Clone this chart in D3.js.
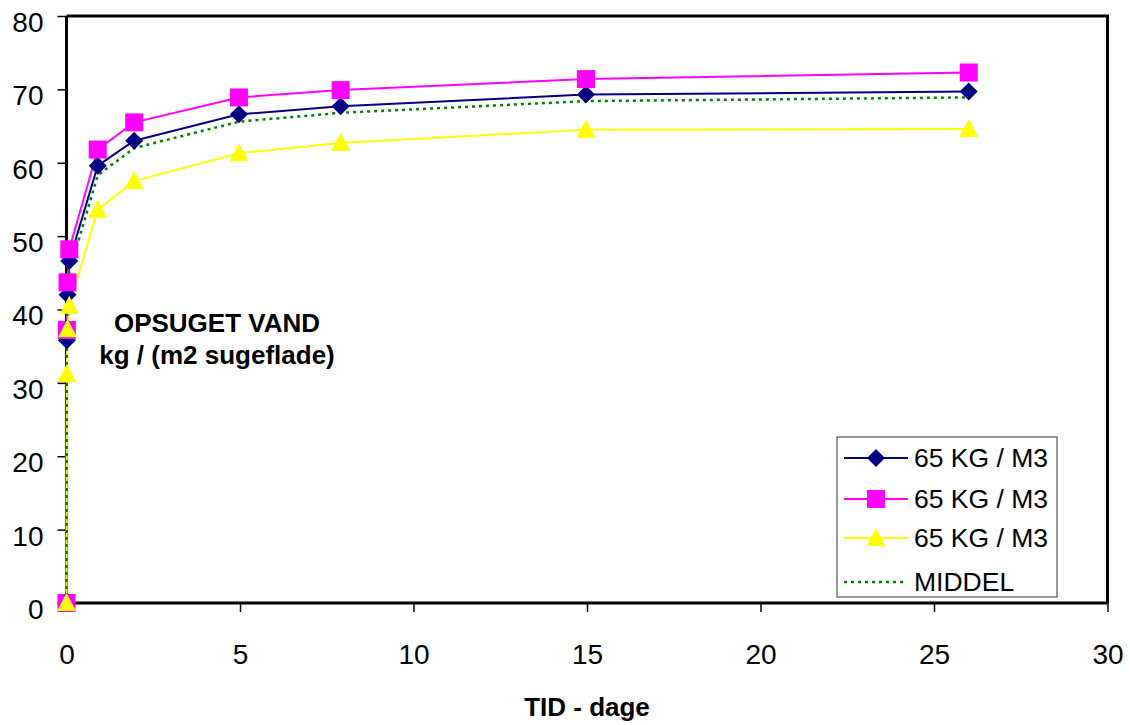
<!DOCTYPE html>
<html>
<head>
<meta charset="utf-8">
<script src="https://cdn.jsdelivr.net/npm/d3@7"></script>
<style>
  html, body { margin: 0; padding: 0; background: #fff; }
  svg { display: block; font-family: "Liberation Sans", Arial, sans-serif; }
</style>
</head>
<body>
<svg id="chart" width="1130" height="725"></svg>
<script>
// ---- data ----
const days = [0, 0.01, 0.03, 0.08, 0.9, 1.95, 4.97, 7.9, 14.97, 26.0];
const serieA = [0, 35.8, 42.0, 46.6, 59.6, 63.0, 66.6, 67.7, 69.3, 69.7];   // navy diamonds
const serieB = [0, 37.2, 43.7, 48.2, 61.8, 65.5, 68.9, 69.9, 71.4, 72.3];   // magenta squares
const serieC = [0, 31.2, 37.3, 40.5, 53.6, 57.5, 61.3, 62.7, 64.5, 64.6];   // yellow triangles
const middel = [0, 34.7, 41.0, 45.1, 58.3, 62.0, 65.6, 66.8, 68.4, 68.9];   // dotted mean
const seriesNames = ["65 KG / M3", "65 KG / M3", "65 KG / M3", "MIDDEL"];
const xTicks = [0, 5, 10, 15, 20, 25, 30];
const yTicks = [0, 10, 20, 30, 40, 50, 60, 70, 80];
const xTitle = "TID - dage";
const yNote = ["OPSUGET VAND", "kg / (m2 sugeflade)"];

// ---- layout ----
const svg = d3.select("#chart");
const L = 66.5, R = 1107.5, T = 16, B = 603;
const x = d3.scaleLinear().domain([0, 30]).range([L, R]);
const y = d3.scaleLinear().domain([0, 80]).range([B, T]);

// frame (top & right)
svg.append("path")
  .attr("d", `M${L},${T}H${R}V${B}`)
  .attr("fill", "none").attr("stroke", "#000").attr("stroke-width", 3);

// y axis
const yAxis = svg.append("g").attr("transform", `translate(${L},0)`)
  .call(d3.axisLeft(y).tickValues(yTicks).tickSize(9).tickPadding(14).tickFormat(d3.format("d")));
yAxis.select(".domain").attr("stroke-width", 3).attr("d", `M0,${T}V${B}`);
yAxis.selectAll(".tick line").attr("stroke-width", 1.5);
yAxis.selectAll(".tick text").attr("font-size", 28).attr("fill", "#000")
  .attr("font-family", "Liberation Sans, Arial, sans-serif").attr("dy", "0.87em").attr("y", -9);

// x axis
const xAxis = svg.append("g").attr("transform", `translate(0,${B})`)
  .call(d3.axisBottom(x).tickValues(xTicks).tickSize(9).tickPadding(0).tickFormat(d3.format("d")));
xAxis.select(".domain").attr("stroke-width", 3).attr("d", `M${L},0H${R}`);
xAxis.selectAll(".tick line").attr("stroke-width", 1.5);
xAxis.selectAll(".tick text").attr("font-size", 28).attr("fill", "#000")
  .attr("font-family", "Liberation Sans, Arial, sans-serif").attr("dy", 0).attr("y", 61);

// series
const line = d3.line().x(d => x(d[0])).y(d => y(d[1]));
const zipS = vals => days.map((d, i) => [d, vals[i]]);

const series = [
  { vals: serieA, color: "#000080", marker: "diamond" },
  { vals: serieB, color: "#ff00ff", marker: "square" },
  { vals: serieC, color: "#ffff00", marker: "triangle" }
];

const g = svg.append("g");
series.forEach(s => {
  g.append("path").datum(zipS(s.vals)).attr("d", line)
    .attr("fill", "none").attr("stroke", s.color).attr("stroke-width", 2);
});
g.append("path").datum(zipS(middel)).attr("d", line)
  .attr("fill", "none").attr("stroke", "#008000").attr("stroke-width", 2.5)
  .attr("stroke-dasharray", "3,4");

function markerPath(type) {
  if (type === "diamond") return "M0,-9L9,0L0,9L-9,0Z";
  if (type === "square") return "M-9,-9H9V9H-9Z";
  return "M0,-10L9.5,8H-9.5Z";
}
series.forEach(s => {
  g.selectAll(null).data(zipS(s.vals)).enter().append("path")
    .attr("transform", d => `translate(${x(d[0])},${y(d[1])})`)
    .attr("d", markerPath(s.marker)).attr("fill", s.color);
});

// annotation
svg.append("text").attr("x", 217).attr("y", 332).attr("text-anchor", "middle")
  .attr("font-size", 26).attr("font-weight", "bold").text(yNote[0]);
svg.append("text").attr("x", 217).attr("y", 364).attr("text-anchor", "middle")
  .attr("font-size", 26).attr("font-weight", "bold").text(yNote[1]);

// x title
svg.append("text").attr("x", 587).attr("y", 716).attr("text-anchor", "middle")
  .attr("font-size", 26).attr("font-weight", "bold").text(xTitle);

// legend
const lg = svg.append("g");
lg.append("rect").attr("x", 837).attr("y", 437).attr("width", 220).attr("height", 160)
  .attr("fill", "#fff").attr("stroke", "#555").attr("stroke-width", 1.2);
const rowsY = [458, 499, 538, 582];
const legendItems = [
  { color: "#000080", marker: "diamond", dash: null },
  { color: "#ff00ff", marker: "square", dash: null },
  { color: "#ffff00", marker: "triangle", dash: null },
  { color: "#008000", marker: null, dash: "3,4" }
];
legendItems.forEach((it, i) => {
  const cy = rowsY[i];
  const ln = lg.append("line").attr("x1", 844).attr("x2", 908).attr("y1", cy).attr("y2", cy)
    .attr("stroke", it.color).attr("stroke-width", it.dash ? 2.5 : 2);
  if (it.dash) ln.attr("stroke-dasharray", it.dash).attr("x2", 903);
  if (it.marker) lg.append("path").attr("transform", `translate(876,${cy})`)
    .attr("d", markerPath(it.marker)).attr("fill", it.color);
  lg.append("text").attr("x", 914).attr("y", cy + 9).attr("font-size", 26.5).text(seriesNames[i]);
});
</script>
</body>
</html>
